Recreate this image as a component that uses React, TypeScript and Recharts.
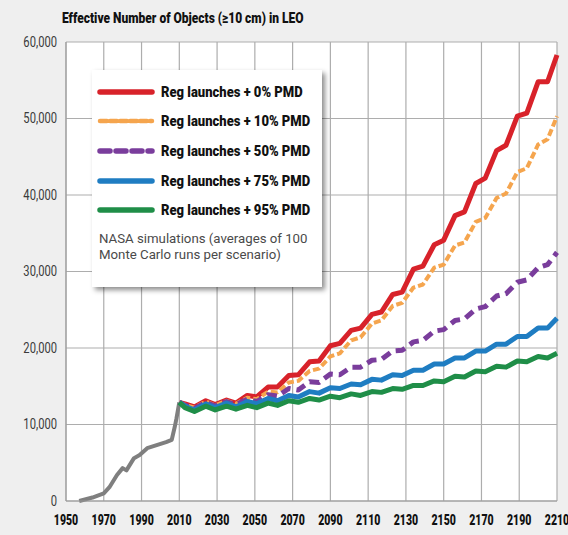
import React from "react";
import { LineChart, Line, XAxis, YAxis, CartesianGrid } from "recharts";

// Historical (gray) record
const histYears = [1957, 1960, 1964, 1970, 1973, 1977, 1980, 1982, 1986, 1989, 1993, 1998, 2003, 2006, 2007.6, 2008.5, 2010];
const histValues = [0, 200, 450, 1000, 1800, 3400, 4300, 4000, 5600, 6000, 6900, 7300, 7700, 8000, 9700, 10800, 12900];

// Projection years (solar-cycle steps)
const projYears = [2010, 2013, 2018, 2024, 2029, 2035, 2040, 2046, 2051, 2057, 2062, 2068, 2073, 2079, 2084, 2090, 2095, 2101, 2106, 2112, 2117, 2123, 2128, 2134, 2139, 2145, 2150, 2156, 2161, 2167, 2172, 2178, 2183, 2189, 2194, 2200, 2205, 2210];

const pmd0 = [12900, 12700, 12300, 13100, 12600, 13200, 12800, 13800, 13600, 14900, 14900, 16400, 16500, 18200, 18300, 20300, 20600, 22300, 22600, 24400, 24700, 27000, 27300, 30300, 30700, 33500, 34100, 37300, 37800, 41500, 42200, 45800, 46500, 50300, 50700, 54800, 54800, 58300];
const pmd10 = [12900, 12600, 12200, 13000, 12500, 13100, 12700, 13500, 13300, 14300, 14200, 15500, 15700, 17000, 17300, 18900, 19300, 21000, 21400, 23200, 23600, 25500, 25900, 27900, 28300, 30500, 30900, 33400, 33800, 36500, 37000, 39600, 40200, 43000, 43500, 46600, 47300, 50300];
const pmd50 = [12900, 12500, 12100, 12900, 12400, 13000, 12600, 13300, 13000, 13900, 13700, 14700, 14500, 15600, 15500, 16600, 16500, 17500, 17500, 18400, 18500, 19600, 19700, 20800, 21000, 22200, 22400, 23600, 23800, 25100, 25400, 26800, 27100, 28600, 28900, 30500, 30900, 32500];
const pmd75 = [12900, 12400, 11900, 12700, 12200, 12800, 12300, 13000, 12700, 13400, 13100, 13800, 13600, 14300, 14100, 14800, 14700, 15300, 15200, 15900, 15800, 16500, 16400, 17100, 17100, 17900, 17900, 18700, 18700, 19600, 19600, 20500, 20500, 21500, 21500, 22600, 22600, 23900];
const pmd95 = [12900, 12200, 11700, 12400, 11900, 12400, 12000, 12500, 12200, 12800, 12500, 13100, 12900, 13400, 13200, 13700, 13500, 14000, 13800, 14300, 14200, 14700, 14600, 15100, 15100, 15700, 15600, 16300, 16200, 17000, 16900, 17600, 17500, 18300, 18200, 18900, 18700, 19300];

const xTicks = [1950, 1970, 1990, 2010, 2030, 2050, 2070, 2090, 2110, 2130, 2150, 2170, 2190, 2210];
const yTicks = [0, 10000, 20000, 30000, 40000, 50000, 60000];

const seriesNames = [
  "Reg launches + 0% PMD",
  "Reg launches + 10% PMD",
  "Reg launches + 50% PMD",
  "Reg launches + 75% PMD",
  "Reg launches + 95% PMD",
];
const title = "Effective Number of Objects (\u226510 cm) in LEO";
const noteLines = ["NASA simulations (averages of 100", "Monte Carlo runs per scenario)"];

const toPoints = (years: number[], vals: number[]) => years.map((y, i) => ({ year: y, v: vals[i] }));

const histData = toPoints(histYears, histValues);
const seriesData = [pmd0, pmd10, pmd50, pmd75, pmd95].map((vals) => toPoints(projYears, vals));

const COLORS = ["#d8222a", "#f5a54e", "#7a3d9c", "#1f7dc2", "#1f8e48"];
const DASH = [undefined, "7 3", "10 6", undefined, undefined];
const WIDTH = [5, 4, 5, 5, 5];

const FONT = "Roboto, 'Noto Sans', sans-serif";

const XTick = (props: any) => {
  const { x, y, payload } = props;
  return (
    <text
      x={x}
      y={y}
      dy={24}
      textAnchor="middle"
      transform={`translate(${x} 0) scale(0.68 1) translate(${-x} 0)`}
      fill="#111"
      fontSize={15.5}
      fontWeight={900}
      fontFamily={FONT}
    >
      {payload.value}
    </text>
  );
};

const YTick = (props: any) => {
  const { x, y, payload } = props;
  const tx = x - 9;
  return (
    <text
      x={tx}
      y={y}
      dy={5}
      textAnchor="end"
      transform={`translate(${tx} 0) scale(0.8 1) translate(${-tx} 0)`}
      fill="#3a3a3a"
      fontSize={14}
      fontFamily={FONT}
    >
      {Number(payload.value).toLocaleString("en-US")}
    </text>
  );
};

const LegendBox = () => (
  <div
    style={{
      position: "absolute",
      left: 92,
      top: 70,
      width: 230,
      height: 217,
      background: "#fff",
      boxShadow: "3px 3px 5px rgba(0,0,0,0.45)",
      boxSizing: "border-box",
      paddingTop: 7,
      fontFamily: FONT,
      zIndex: 2,
    }}
  >
    {seriesNames.map((name, i) => (
      <div key={i} style={{ display: "flex", alignItems: "center", height: 29.6 }}>
        <svg width={58} height={10} style={{ marginLeft: 5, marginRight: 6, flex: "none" }}>
          <line
            x1={3}
            y1={5}
            x2={55}
            y2={5}
            stroke={COLORS[i]}
            strokeWidth={WIDTH[i] + 0.5}
            strokeDasharray={DASH[i]}
            strokeLinecap="round"
          />
        </svg>
        <span
          style={{
            display: "inline-block",
            fontWeight: 900,
            fontSize: 15.5,
            color: "#111",
            whiteSpace: "nowrap",
            transform: "scaleX(0.84)",
            transformOrigin: "left center",
          }}
        >
          {name}
        </span>
      </div>
    ))}
    <div style={{ marginTop: 5, marginLeft: 7, lineHeight: "16px" }}>
      {noteLines.map((l, i) => (
        <div
          key={i}
          style={{
            fontSize: 13.5,
            color: "#4a4a4a",
            whiteSpace: "nowrap",
            transform: "scaleX(0.98)",
            transformOrigin: "left center",
          }}
        >
          {l}
        </div>
      ))}
    </div>
  </div>
);

export default function App() {
  return (
    <div style={{ position: "absolute", left: 0, top: 0, width: 568, height: 535, background: "#efefef", overflow: "hidden" }}>
      <div
        style={{
          position: "absolute",
          left: 62,
          top: 9,
          fontFamily: FONT,
          fontWeight: 900,
          fontSize: 15,
          color: "#111",
          whiteSpace: "nowrap",
          transform: "scaleX(0.8)",
          transformOrigin: "left center",
          zIndex: 2,
        }}
      >
        {title}
      </div>
      <LegendBox />
      <div style={{ position: "absolute", left: 0, top: 0 }}>
        <LineChart width={568} height={535} margin={{ top: 42, right: 11, left: 0, bottom: 0 }}>
          <CartesianGrid stroke="#adadad" strokeWidth={1.2} fill="#ffffff" />
          <XAxis
            type="number"
            dataKey="year"
            domain={[1950, 2210]}
            ticks={xTicks}
            interval={0}
            height={34}
            axisLine={{ stroke: "#999" }}
            tickLine={false}
            tickSize={0}
            tickMargin={0}
            tick={<XTick />}
          />
          <YAxis
            type="number"
            domain={[0, 60000]}
            ticks={yTicks}
            interval={0}
            width={66}
            axisLine={{ stroke: "#999" }}
            tickLine={false}
            tickSize={0}
            tickMargin={0}
            tick={<YTick />}
          />
          <Line
            data={histData}
            dataKey="v"
            name="history"
            stroke="#7f7f7f"
            strokeWidth={4}
            strokeLinejoin="round"
            dot={false}
            isAnimationActive={false}
          />
          {seriesData.map((d, i) => (
            <Line
              key={i}
              data={d}
              dataKey="v"
              name={seriesNames[i]}
              stroke={COLORS[i]}
              strokeWidth={WIDTH[i]}
              strokeDasharray={DASH[i]}
              strokeLinejoin="round"
              dot={false}
              isAnimationActive={false}
            />
          ))}
        </LineChart>
      </div>
    </div>
  );
}
